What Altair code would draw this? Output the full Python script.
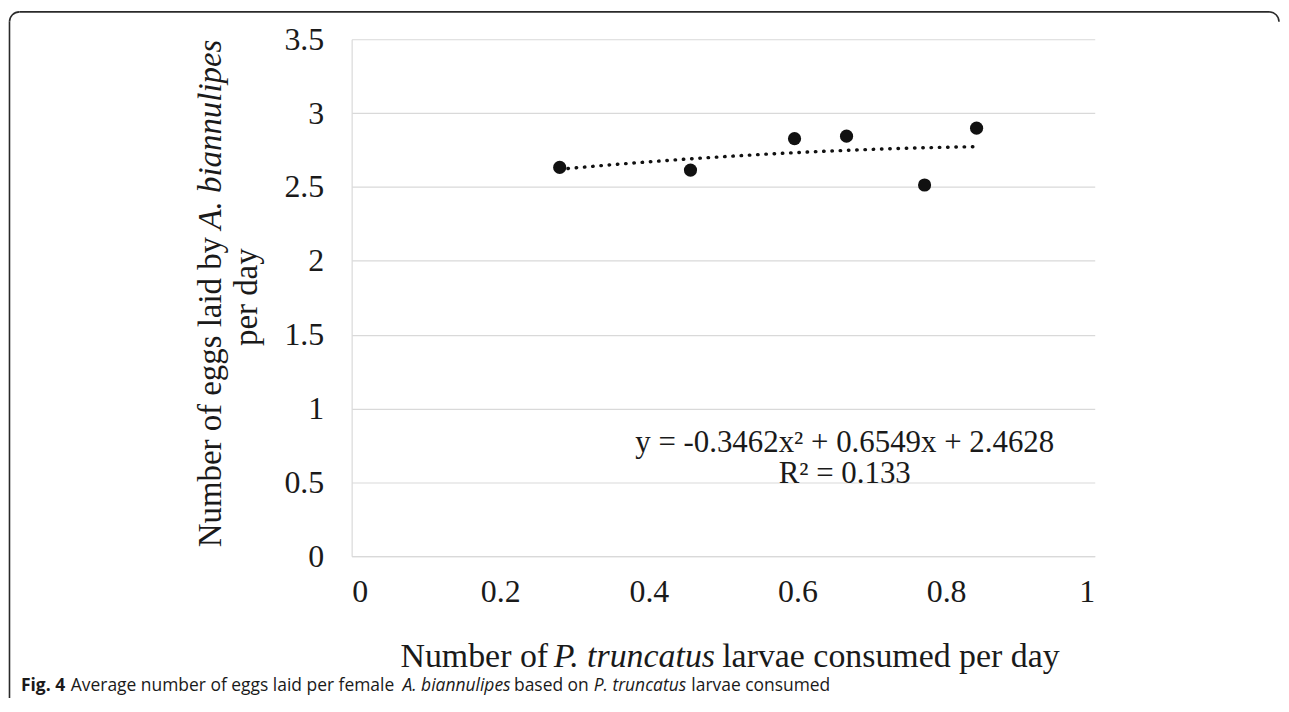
import altair as alt
import pandas as pd

# ---------------- data ----------------
x_vals = [0.280, 0.456, 0.596, 0.666, 0.771, 0.841]
y_vals = [2.632, 2.614, 2.827, 2.844, 2.513, 2.898]
x_ticks = [0, 0.2, 0.4, 0.6, 0.8, 1]
y_ticks = [0, 0.5, 1, 1.5, 2, 2.5, 3, 3.5]
eq_lines = ["y = -0.3462x\u00b2 + 0.6549x + 2.4628", "R\u00b2 = 0.133"]
x_title = ["Number of", "P. truncatus", "larvae consumed per day"]
y_title_1 = ["Number of eggs laid by", "A. biannulipes"]
y_title_2 = ["per day"]
caption = ["Fig. 4", "Average number of eggs laid per female", "A. biannulipes",
           "based on", "P. truncatus", "larvae consumed"]

df = pd.DataFrame({"x": x_vals, "y": y_vals})

# ---------------- layout (page px -> plot px) ----------------
OX, OY = 353, 38          # plot origin on page
W, H = 746, 519
PAD = {"left": 345, "top": 30, "right": 187, "bottom": 141}
SERIF = "Liberation Serif"
SANS = "Open Sans"


def px(v):
    return v - OX


def py(v):
    return v - OY


def txt(s, x, y, size, font=SERIF, style="normal", weight="normal",
        align="left", angle=0, baseline="alphabetic", color="#1a1a1a"):
    return alt.Chart(alt.Data(values=[{"t": s}])).mark_text(
        font=font, fontSize=size, fontStyle=style, fontWeight=weight,
        align=align, angle=angle, baseline=baseline, color=color
    ).encode(text="t:N", x=alt.value(x), y=alt.value(y))


# ---------------- data layers ----------------
xs = alt.Scale(domain=[0, 1], nice=False)
ys = alt.Scale(domain=[0, 3.5], nice=False)

points = alt.Chart(df).mark_circle(size=175, color="#111111", opacity=1).encode(
    x=alt.X("x:Q", scale=xs, axis=alt.Axis(values=x_ticks, format="~g", grid=False,
                                            labelPadding=20, title=None)),
    y=alt.Y("y:Q", scale=ys, axis=alt.Axis(values=y_ticks, format="~g", grid=True,
                                            labelPadding=28, title=None)),
)

trend = alt.Chart(df).transform_regression(
    "x", "y", method="poly", order=2
).mark_line(color="#111111", strokeWidth=3.4, strokeDash=[0.5, 7.8], strokeCap="round").encode(
    x=alt.X("x:Q", scale=xs), y=alt.Y("y:Q", scale=ys)
)

# ---------------- text layers ----------------
layers = [trend, points]

# equation
layers.append(txt(eq_lines[0], px(848), py(452), 31, align="center"))
layers.append(txt(eq_lines[1], px(848), py(484), 31, align="center"))

# x title
XS = 34
xt_y = py(668)
layers.append(txt(x_title[0], px(402), xt_y, XS))
layers.append(txt(x_title[1], px(556), xt_y, XS, style="italic"))
layers.append(txt(x_title[2], px(725), xt_y, XS))

# y title (rotated)
YS = 33
l1x = px(222)
layers.append(txt(y_title_1[0], l1x, py(548), YS, angle=270))
layers.append(txt(y_title_1[1], l1x, py(229), YS, style="italic", angle=270))
layers.append(txt(y_title_2[0], px(258), py(297), YS, angle=270, align="center"))

# caption
cap_y = py(692)
CS = 17.5
layers.append(txt(caption[0], px(21), cap_y, CS, font=SANS, weight="bold"))
layers.append(txt(caption[1], px(71), cap_y, CS, font=SANS))
layers.append(txt(caption[2], px(404), cap_y, CS, font=SANS, style="italic"))
layers.append(txt(caption[3], px(516), cap_y, CS, font=SANS))
layers.append(txt(caption[4], px(596), cap_y, CS, font=SANS, style="italic"))
layers.append(txt(caption[5], px(694), cap_y, CS, font=SANS))

# frame (rounded top corners)
BC = "#2a2a2a"
BW = 1.6
one = alt.Data(values=[{}])
layers.append(alt.Chart(one).mark_rule(color=BC, strokeWidth=BW).encode(
    x=alt.value(px(19.5)), x2=alt.value(px(1274)), y=alt.value(py(10.5))))
layers.append(alt.Chart(one).mark_rule(color=BC, strokeWidth=BW).encode(
    x=alt.value(px(9.5)), y=alt.value(py(20.5)), y2=alt.value(py(760))))
layers.append(alt.Chart(one).mark_arc(radius=10.8, radius2=9.2, theta=4.7124, theta2=6.2832,
                                      color=BC).encode(x=alt.value(px(19.5)), y=alt.value(py(20.5))))
layers.append(alt.Chart(one).mark_arc(radius=10.8, radius2=9.2, theta=0, theta2=1.5708,
                                      color=BC).encode(x=alt.value(px(1274)), y=alt.value(py(20.5))))

chart = alt.layer(*layers).properties(
    width=W, height=H, padding=PAD, autosize=alt.AutoSizeParams(type="none")
).configure_view(stroke=None).configure_axis(
    labelFont=SERIF, labelFontSize=32, labelColor="#1a1a1a",
    domainColor="#d9d9d9", domainWidth=1.2, gridColor="#d9d9d9", gridWidth=1.2,
    ticks=False
)

chart.save("out.html", embed_options={"renderer": "svg", "actions": False})
